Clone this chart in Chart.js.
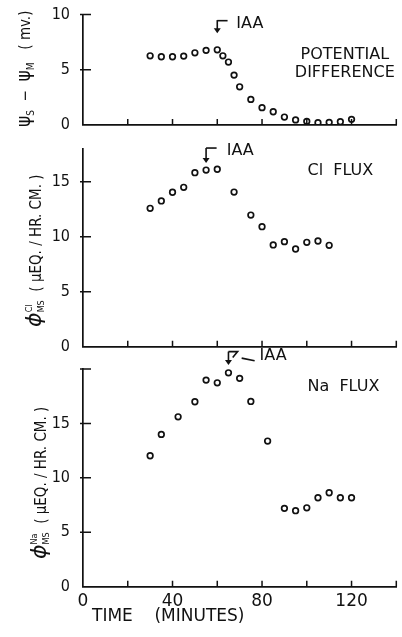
<!DOCTYPE html>
<html lang="en">
  <head>
    <meta charset="UTF-8" />
    <title>IAA - potential difference and fluxes</title>
    <script src="https://cdn.jsdelivr.net/npm/chart.js@4.4.1/dist/chart.umd.min.js"></script>
    <style>
      body { margin: 0; background: #fff; }
      .stage { position: relative; width: 402px; height: 637px; }
      .stage canvas { position: absolute; left: 0; top: 0; }
    </style>
  </head>
  <body>
    <div class="stage">
      <canvas id="pd" width="402" height="637"></canvas>
      <canvas id="cl" width="402" height="637"></canvas>
      <canvas id="na" width="402" height="637"></canvas>
    </div>

    <script>
      const FONT = "'DejaVu Sans Condensed', 'DejaVu Sans', sans-serif";
      const WIDE = "'DejaVu Sans', sans-serif";
      const INK = "#111";

      // potential difference (mv.)
      const pdTime = [30, 35, 40, 45, 50, 55, 60, 62.5, 65, 67.5, 70, 75, 80, 85, 90, 95, 100, 105, 110, 115, 120];
      const pdValue = [6.27, 6.18, 6.18, 6.24, 6.54, 6.76, 6.81, 6.27, 5.7, 4.52, 3.46, 2.32, 1.57, 1.2, 0.72, 0.46, 0.33, 0.21, 0.24, 0.3, 0.51];

      // Cl flux (uEq / hr. cm.)
      const clTime = [30, 35, 40, 45, 50, 55, 60, 67.5, 75, 80, 85, 90, 95, 100, 105, 110];
      const clFlux = [12.58, 13.25, 14.04, 14.49, 15.82, 16.06, 16.13, 14.06, 11.97, 10.91, 9.25, 9.55, 8.88, 9.49, 9.61, 9.22];

      // Na flux (uEq / hr. cm.)
      const naTime = [30, 35, 42.5, 50, 55, 60, 65, 70, 75, 82.5, 90, 95, 100, 105, 110, 115, 120];
      const naFlux = [12.03, 13.99, 15.61, 16.99, 18.98, 18.73, 19.65, 19.14, 17.02, 13.38, 7.2, 6.98, 7.25, 8.17, 8.63, 8.17, 8.17];

      const xTickLabels = [0, 40, 80, 120];
      const pdTickLabels = [0, 5, 10];
      const clTickLabels = [0, 5, 10, 15];
      const naTickLabels = [0, 5, 10, 15];

      function points(xs, ys) {
        return xs.map((x, i) => ({ x, y: ys[i] }));
      }

      // short tick marks pointing into the plot, like the original
      const innerTicks = {
        id: "innerTicks",
        afterDraw(chart) {
          const { ctx, chartArea: a, scales: { x, y } } = chart;
          ctx.save();
          ctx.strokeStyle = INK;
          ctx.lineWidth = 1.5;
          ctx.beginPath();
          x.ticks.forEach((t) => {
            if (t.value === x.min) return;
            const px = x.getPixelForValue(t.value);
            ctx.moveTo(px, a.bottom);
            ctx.lineTo(px, a.bottom - 6);
          });
          y.ticks.forEach((t) => {
            if (t.value === y.min) return;
            const py = y.getPixelForValue(t.value);
            ctx.moveTo(a.left - 3, py);
            ctx.lineTo(a.left + 8, py);
          });
          ctx.stroke();
          ctx.restore();
        },
      };

      // rotated y title with sub / superscripts
      function drawRich(ctx, parts, cx, cy) {
        ctx.save();
        ctx.translate(cx, cy);
        ctx.rotate(-Math.PI / 2);
        ctx.fillStyle = INK;
        ctx.textBaseline = "alphabetic";
        const fontOf = (p) => `${p.it ? "italic " : ""}${p.s}px ${p.f || FONT}`;
        const widths = parts.map((p) => {
          ctx.font = fontOf(p);
          if (p.sup) return Math.max(ctx.measureText(p.sup).width, ctx.measureText(p.sub).width);
          return ctx.measureText(p.t).width;
        });
        let x = -widths.reduce((a, b) => a + b, 0) / 2;
        const base = 5.5;
        parts.forEach((p, i) => {
          ctx.font = fontOf(p);
          if (p.sup) {
            ctx.fillText(p.sup, x, base - 9);
            ctx.fillText(p.sub, x, base + 3);
          } else {
            ctx.fillText(p.t, x, base + (p.dy || 0));
          }
          x += widths[i];
        });
        ctx.restore();
      }

      const yTitle = {
        id: "yTitle",
        afterDraw(chart, args, opts) {
          const a = chart.chartArea;
          drawRich(chart.ctx, opts.parts, a.left + opts.dx, (a.top + a.bottom) / 2 + (opts.dy || 0));
        },
      };

      // IAA arrows and panel names, placed in data units
      const notes = {
        id: "notes",
        afterDraw(chart, args, opts) {
          const { ctx, scales: { x, y } } = chart;
          const px = (v) => x.getPixelForValue(v);
          const py = (v) => y.getPixelForValue(v);
          ctx.save();
          ctx.strokeStyle = INK;
          ctx.fillStyle = INK;
          ctx.lineWidth = 1.6;
          const ar = opts.arrow;
          if (ar) {
            const ax = px(ar.x), y0 = py(ar.from), y1 = py(ar.to);
            ctx.beginPath();
            ctx.moveTo(ax, y0);
            ctx.lineTo(ax, y1 - 4);
            ctx.stroke();
            ctx.beginPath();
            ctx.moveTo(ax - 3.5, y1 - 5);
            ctx.lineTo(ax + 3.5, y1 - 5);
            ctx.lineTo(ax, y1);
            ctx.closePath();
            ctx.fill();
            (ar.lines || []).forEach((ln) => {
              ctx.beginPath();
              ln.forEach(([lx, ly], i) => (i ? ctx.lineTo(px(lx), py(ly)) : ctx.moveTo(px(lx), py(ly))));
              ctx.stroke();
            });
          }
          ctx.textBaseline = "middle";
          (opts.texts || []).forEach((t) => {
            ctx.font = `${t.s || 16}px ${WIDE}`;
            ctx.textAlign = t.align || "left";
            ctx.fillText(t.t, px(t.x), py(t.y));
          });
          (opts.free || []).forEach((t) => {
            ctx.font = `${t.s || 16}px ${WIDE}`;
            ctx.textAlign = "left";
            ctx.fillText(t.t, chart.chartArea.left + t.dx, chart.chartArea.bottom + t.dy);
          });
          ctx.restore();
        },
      };

      function makePanel(id, xs, ys, cfg) {
        return new Chart(document.getElementById(id), {
          type: "scatter",
          data: {
            datasets: [
              {
                data: points(xs, ys),
                pointStyle: "circle",
                pointRadius: 2.8,
                pointBorderWidth: 1.7,
                pointBorderColor: INK,
                pointBackgroundColor: "rgba(255,255,255,0)",
                showLine: false,
              },
            ],
          },
          options: {
            responsive: false,
            devicePixelRatio: 1,
            animation: false,
            events: [],
            layout: { padding: { left: 0, right: 5, top: cfg.top, bottom: cfg.bottom } },
            scales: {
              x: {
                type: "linear",
                min: 0,
                max: 140,
                grid: { display: false },
                border: { display: true, color: INK, width: 1.7 },
                ticks: {
                  stepSize: 20,
                  display: !!cfg.xLabels,
                  padding: -3,
                  color: INK,
                  font: { family: WIDE, size: 17 },
                  callback: (v) => (xTickLabels.includes(v) ? v : ""),
                },
                afterFit: (s) => { s.height = cfg.xHeight; },
              },
              y: {
                min: 0,
                max: cfg.yMax,
                grid: { display: false },
                border: { display: true, color: INK, width: 1.7 },
                ticks: {
                  stepSize: 5,
                  includeBounds: false,
                  padding: 5,
                  color: INK,
                  font: { family: FONT, size: 16 },
                  callback: (v) => (cfg.yLabels.includes(v) ? v : ""),
                },
                afterFit: (s) => { s.width = 83; },
              },
            },
            plugins: {
              legend: { display: false },
              tooltip: { enabled: false },
              yTitle: { parts: cfg.title, dx: cfg.titleDx, dy: cfg.titleDy },
              notes: cfg.notes,
            },
          },
          plugins: [innerTicks, yTitle, notes],
        });
      }

      makePanel("pd", pdTime, pdValue, {
        top: 14,
        bottom: 512,
        xHeight: 0,
        yMax: 10,
        yLabels: pdTickLabels,
        titleDx: -59,
        titleDy: -1,
        title: [
          { t: "ψ", s: 19 },
          { t: "S", s: 10, dy: 4 },
          { t: "  −  ", s: 15 },
          { t: "ψ", s: 19 },
          { t: "M", s: 10, dy: 4 },
          { t: "   ( mv.)", s: 15 },
        ],
        notes: {
          arrow: { x: 60, from: 9.5, to: 8.3, lines: [[[60, 9.45], [64.6, 9.45]]] },
          texts: [
            { t: "IAA", x: 68.5, y: 9.2 },
            { t: "POTENTIAL", x: 117, y: 6.35, align: "center" },
            { t: "DIFFERENCE", x: 117, y: 4.75, align: "center" },
          ],
        },
      });

      makePanel("cl", clTime, clFlux, {
        top: 148.7,
        bottom: 290.3,
        xHeight: 0,
        yMax: 18,
        yLabels: clTickLabels,
        titleDx: -48,
        titleDy: 3,
        title: [
          { t: "ϕ", s: 22, it: true, f: WIDE },
          { sup: "Cl", sub: "MS", s: 9 },
          { t: "  ( μEQ. / HR. CM. )", s: 15 },
        ],
        notes: {
          arrow: { x: 55, from: 18.06, to: 16.7, lines: [[[55, 18.06], [59.7, 18.06]]] },
          texts: [
            { t: "IAA", x: 64.2, y: 17.85 },
            { t: "Cl  FLUX", x: 100.3, y: 15.97 },
          ],
        },
      });

      makePanel("na", naTime, naFlux, {
        top: 369,
        bottom: 0,
        xHeight: 50.3,
        xLabels: true,
        yMax: 20,
        yLabels: naTickLabels,
        titleDx: -43,
        titleDy: 5,
        title: [
          { t: "ϕ", s: 22, it: true, f: WIDE },
          { sup: "Na", sub: "MS", s: 9 },
          { t: "  ( μEQ. / HR. CM. )", s: 15 },
        ],
        notes: {
          arrow: {
            x: 65,
            from: 21.6,
            to: 20.36,
            lines: [
              [[65, 21.6], [69.1, 21.6], [66.9, 21.05]],
              [[70.9, 21.0], [76.7, 20.75]],
            ],
          },
          texts: [
            { t: "IAA", x: 78.9, y: 21.2 },
            { t: "Na  FLUX", x: 100.3, y: 18.35 },
          ],
          free: [{ t: "TIME    (MINUTES)", dx: 9, dy: 30, s: 17 }],
        },
      });
    </script>
  </body>
</html>
